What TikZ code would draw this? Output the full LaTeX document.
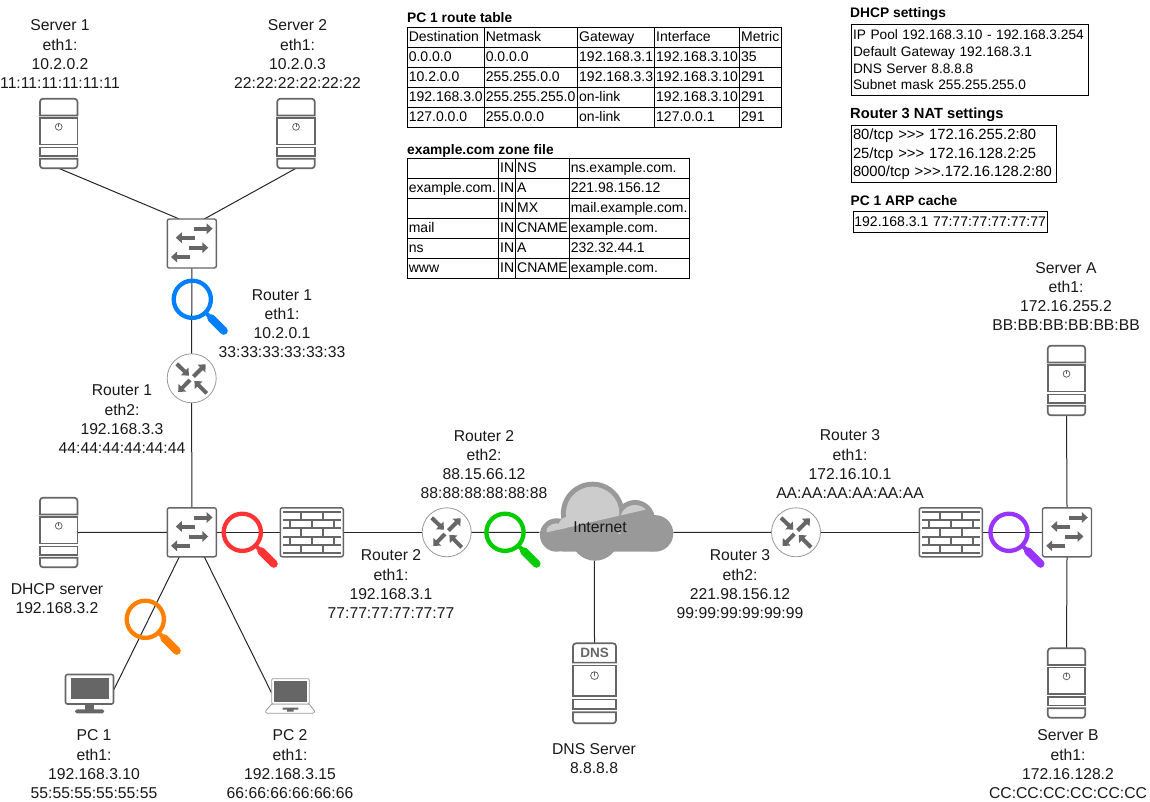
\documentclass[tikz,border=0pt]{standalone}
\usepackage{fontspec}
\setmainfont{Liberation Sans}
\usepackage{array}
\usetikzlibrary{arrows.meta}

\definecolor{icongrey}{HTML}{666666}
\definecolor{ringgrey}{HTML}{999999}
\definecolor{cloudlight}{HTML}{CCCCCC}
\definecolor{magblue}{HTML}{007FFF}
\definecolor{magred}{HTML}{FF3333}
\definecolor{magorange}{HTML}{FF8000}
\definecolor{maggreen}{HTML}{00CC00}
\definecolor{magpurple}{HTML}{9933FF}

\tikzset{
	link/.style={line width=1pt,black!85},
	lbl/.style={align=center,inner sep=0,yshift=-.7pt,font=\fontsize{15.7}{19.2}\selectfont,black!90},
	heading/.style={anchor=base west,inner sep=0,font=\fontsize{13.8}{16}\selectfont\bfseries},
	tablebox/.style={anchor=north west,inner sep=0,outer sep=0},
	textbox/.style={draw,anchor=north west,line width=1pt,inner xsep=1.2pt,inner ysep=0,align=left},
	iconbox/.style={inner sep=0,outer sep=0,minimum width=#1},
	serverbox/.style={iconbox=37.5,minimum height=69.6},
	dnsbox/.style={iconbox=43.6,minimum height=80},
	switchbox/.style={iconbox=49,minimum height=49},
	routerbox/.style={circle,iconbox=49},
	firewallbox/.style={iconbox=63,minimum height=49},
	pcbox/.style={iconbox=49,minimum height=39},
	laptopbox/.style={iconbox=37,minimum height=34.6},
	cloudbox/.style={iconbox=134,minimum height=78},
	thickarrow/.style={icongrey,line width=4pt,-{Triangle[length=6pt,width=10.5pt]}},
	servericon/.pic={
		\begin{scope}[icongrey,line width=1.7pt,fill=white]
			\filldraw (-18.7,-18) [rounded corners=3pt] -- (-18.7,-34.8) -- (18.7,-34.8) [sharp corners] -- (18.7,-18) -- cycle;
			\filldraw (-18.7,-15.5) rectangle (18.7,11);
			\filldraw (-18.7,14) rectangle (18.7,22.5);
			\filldraw (-18.7,25.2) [rounded corners=3pt] -- (-18.7,34.8) -- (18.7,34.8) [sharp corners] -- (18.7,25.2) -- cycle;
			\draw[line width=.8pt] (0,-6.7) circle (3.4);
			\draw[line width=.8pt] (0,-10.1) -- (0,-6.5);
		\end{scope}
	},
	switchicon/.pic={
		\filldraw[icongrey,fill=white,line width=1.4pt,rounded corners=2pt] (-24.5,-24.5) rectangle (24.5,24.5);
		\draw[thickarrow] (2.2,-14.8) -- (20.8,-14.8);
		\draw[thickarrow] (3.2,-5.8) -- (-16,-5.8);
		\draw[thickarrow] (-2.5,4.2) -- (16.5,4.2);
		\draw[thickarrow] (-1.8,13.5) -- (-20.8,13.5);
	},
	routericon/.pic={
		\filldraw[ringgrey,fill=white,line width=.8pt] (0,0) circle (24.5);
		\draw[thickarrow] (-15,-14.5) -- (-2.7,-2.7);
		\draw[thickarrow] (1.7,-1.7) -- (14,-14);
		\draw[thickarrow] (-1.7,1.7) -- (-13.5,13.7);
		\draw[thickarrow] (15,15) -- (2.7,2.7);
	},
	firewallicon/.pic={
		\filldraw[icongrey,fill=white,line width=1.4pt,rounded corners=2pt] (-31.5,-24.5) rectangle (31.5,24.5);
		\begin{scope}[icongrey,line width=2pt]
			\foreach \y in {-20.3,-12.3,-4,4.3,12.7,20.3}
				\draw (-29,\y) -- (29,\y);
			\foreach \y in {-16.3,0.1,16.5}
				\foreach \x in {-11,11.5}
					\draw (\x,\y-4) -- (\x,\y+4);
			\foreach \y in {-8.1,8.5}
				\foreach \x in {-21.5,0.5,22.5}
					\draw (\x,\y-4) -- (\x,\y+4);
		\end{scope}
	},
	pcicon/.pic={
		\filldraw[icongrey,fill=white,line width=1.6pt,rounded corners=2pt] (-24,-19.2) rectangle (24,10.3);
		\fill[icongrey] (-18.8,-15.3) rectangle (19,5.7);
		\fill[icongrey] (-4.8,10.3) rectangle (4.8,16);
		\fill[icongrey,rounded corners=1.5pt] (-14.3,15.7) rectangle (14.5,19.7);
	},
	laptopicon/.pic={
		\filldraw[ringgrey,fill=white,line width=.8pt,rounded corners=1pt] (-18.3,8) -- (-25,15.7) -- (-23.3,17.3) -- (23.3,17.3) -- (25,15.7) -- (19.3,8) -- cycle;
		\filldraw[ringgrey,fill=white,line width=.8pt,rounded corners=1pt] (-18.3,-17.3) rectangle (19.3,8);
		\fill[icongrey] (-16,-15) rectangle (16.7,5.7);
		\fill[icongrey] (-7.3,11.7) -- (8.3,11.7) -- (8.3,13.5) -- (3.5,13.5) -- (3.5,15.5) -- (-3,15.5) -- (-3,13.5) -- (-7.3,13.5) -- cycle;
	},
	cloudicon/.pic={
		\fill[ringgrey,rounded corners=6pt] (-50,12) rectangle (52,29.8);
		\foreach \x/\y/\r in {-13.7/-8.3/31.7, 28.7/-1.7/20, 48.7/11.7/18.3, -49.7/13.3/16.7, -11.3/15/24}
			\fill[ringgrey] (\x,\y) circle (\r);
		\begin{scope}
			\clip (-59.7,10.7) -- (40.3,-12.3) -- (40.3,-60) -- (-59.7,-60) -- cycle;
			\foreach \x/\y/\r in {-13.7/-8.3/26.7, 28.7/-1.7/15, -49.7/13.3/11.7, -38/5/10}
				\fill[cloudlight] (\x,\y) circle (\r);
		\end{scope}
	},
	magnifier/.pic={
		\draw[pic actions,line width=4.3pt] (0,0) circle (18.6);
		\draw[pic actions,line width=4pt] (13,13) -- (20,20);
		\draw[pic actions,line width=8pt,line cap=round] (19,19) -- (31.5,31.5);
	},
}

\begin{document}
\begin{tikzpicture}[x=1pt,y=-1pt]
	\useasboundingbox (0,0) rectangle (1150,802);
	\fill[white] (0,0) rectangle (1150,802);

	% Place the devices
	\foreach \n/\x/\y in {srvone/58.7/133.5, srvtwo/296/133.5, dhcp/58.7/532.5, srva/1066.5/380.5, srvb/1066.5/683}
		\node[serverbox] (\n) at (\x,\y) {};
	\foreach \n/\x/\y in {swone/191.8/243.5, swtwo/191.8/532.3, swthree/1067/532.3}
		\node[switchbox] (\n) at (\x,\y) {};
	\foreach \n/\x/\y in {rtone/191.7/378.3, rttwo/446.7/532.3, rtthree/796/532.3}
		\node[routerbox] (\n) at (\x,\y) {};
	\foreach \n/\x/\y in {fwone/311.8/532.3, fwtwo/950.8/532.3}
		\node[firewallbox] (\n) at (\x,\y) {};
	\node[dnsbox] (dns) at (594.5,683.3) {};
	\node[pcbox] (pcone) at (89.5,693.7) {};
	\node[laptopbox] (pctwo) at (290,696) {};
	\node[cloudbox] (internet) at (606.3,521.7) {};

	% Connect them
	\draw[link] (srvone.south) -- (swone.117);
	\draw[link] (srvtwo.south) -- (swone.63);
	\draw[link] (swone.south) -- (rtone.north);
	\draw[link] (rtone.south) -- (swtwo.north);
	\draw[link] (dhcp.east) -- (swtwo.west);
	\draw[link] (swtwo.east) -- (fwone.west);
	\draw[link] (fwone.east) -- (rttwo.west);
	\draw[link] (swtwo.-117) -- (pcone.10);
	\draw[link] (swtwo.-63) -- (pctwo.170);
	\draw[link] (rttwo.east) -- (internet.189);
	\draw[link] (internet.-9) -- (rtthree.west);
	\draw[link] (internet.-107) -- (dns.north);
	\draw[link] (rtthree.east) -- (fwtwo.west);
	\draw[link] (fwtwo.east) -- (swthree.west);
	\draw[link] (srva.south) -- (swthree.north);
	\draw[link] (swthree.south) -- (srvb.north);

	% Icons on top of the lines
	\foreach \n in {srvone,srvtwo,dhcp,srva,srvb}
		\pic at (\n) {servericon};
	\foreach \n in {swone,swtwo,swthree}
		\pic at (\n) {switchicon};
	\foreach \n in {rtone,rttwo,rtthree}
		\pic at (\n) {routericon};
	\foreach \n in {fwone,fwtwo}
		\pic at (\n) {firewallicon};
	\pic[scale=1.15] at (dns) {servericon};
	\node[inner sep=0,text=icongrey,font=\fontsize{13.5}{16}\selectfont\bfseries] (dnstag) at (594.5,653.3) {DNS};
	\pic at (pcone) {pcicon};
	\pic at (pctwo) {laptopicon};
	\pic at (internet) {cloudicon};
	\node[lbl] (inettext) at (600,526.7) {Internet};

	% Magnifiers
	\pic[magblue] at (192.3,299.3) {magnifier};
	\pic[magred] at (242.3,532.3) {magnifier};
	\pic[magorange] at (145.3,619.3) {magnifier};
	\pic[maggreen] at (505,532.3) {magnifier};
	\pic[magpurple] at (1009,532.3) {magnifier};

	% Device labels
	\node[lbl] (lblsrvone) at (60,53.5) {Server 1\\eth1:\\10.2.0.2\\11:11:11:11:11:11};
	\node[lbl] (lblsrvtwo) at (297.5,53.5) {Server 2\\eth1:\\10.2.0.3\\22:22:22:22:22:22};
	\node[lbl] (lblrtonea) at (282,323) {Router 1\\eth1:\\10.2.0.1\\33:33:33:33:33:33};
	\node[lbl] (lblrtoneb) at (122,418.5) {Router 1\\eth2:\\192.168.3.3\\44:44:44:44:44:44};
	\node[lbl] (lbldhcp) at (57,597.5) {DHCP server\\192.168.3.2};
	\node[lbl] (lblpcone) at (94,763.5) {PC 1\\eth1:\\192.168.3.10\\55:55:55:55:55:55};
	\node[lbl] (lblpctwo) at (290,763.5) {PC 2\\eth1:\\192.168.3.15\\66:66:66:66:66:66};
	\node[lbl] (lblrttwoa) at (391,583.5) {Router 2\\eth1:\\192.168.3.1\\77:77:77:77:77:77};
	\node[lbl] (lblrttwob) at (484,464) {Router 2\\eth2:\\88.15.66.12\\88:88:88:88:88:88};
	\node[lbl] (lbldns) at (594,757.5) {DNS Server\\8.8.8.8};
	\node[lbl] (lblrtthreea) at (850,463.5) {Router 3\\eth1:\\172.16.10.1\\AA:AA:AA:AA:AA:AA};
	\node[lbl] (lblrtthreeb) at (740,583.5) {Router 3\\eth2:\\221.98.156.12\\99:99:99:99:99:99};
	\node[lbl] (lblsrva) at (1066,296) {Server A\\eth1:\\172.16.255.2\\BB:BB:BB:BB:BB:BB};
	\node[lbl] (lblsrvb) at (1068,763.5) {Server B\\eth1:\\172.16.128.2\\CC:CC:CC:CC:CC:CC};

	% Tables
	\node[heading] (routehead) at (407,22.3) {PC 1 route table};
	\node[tablebox] (routetable) at (406.8,26.8) {\fontsize{14}{19}\selectfont\setlength{\tabcolsep}{1pt}\setlength{\arrayrulewidth}{1pt}%
		\begin{tabular}{|p{74pt}|p{90.4pt}|p{74pt}|p{82pt}|p{39pt}|}
			\hline
			Destination & Netmask & Gateway & Interface & Metric\\ \hline
			0.0.0.0 & 0.0.0.0 & 192.168.3.1 & 192.168.3.10 & 35\\ \hline
			10.2.0.0 & 255.255.0.0 & 192.168.3.3 & 192.168.3.10 & 291\\ \hline
			192.168.3.0 & 255.255.255.0 & on-link & 192.168.3.10 & 291\\ \hline
			127.0.0.0 & 255.0.0.0 & on-link & 127.0.0.1 & 291\\ \hline
		\end{tabular}};
	\node[heading] (zonehead) at (407,154.7) {example.com zone file};
	\node[tablebox] (zonetable) at (406.8,158.2) {\fontsize{14}{19}\selectfont\setlength{\tabcolsep}{1pt}\setlength{\arrayrulewidth}{1pt}%
		\begin{tabular}{|p{88.4pt}|p{14pt}|p{50.6pt}|p{117pt}|}
			\hline
			 & IN & NS & ns.example.com.\\ \hline
			example.com. & IN & A & 221.98.156.12\\ \hline
			 & IN & MX & mail.example.com.\\ \hline
			mail & IN & CNAME & example.com.\\ \hline
			ns & IN & A & 232.32.44.1\\ \hline
			www & IN & CNAME & example.com.\\ \hline
		\end{tabular}};

	% Settings boxes
	\node[heading] (dhcphead) at (850,17.3) {DHCP settings};
	\node[textbox,text width=234,minimum height=70.4,font=\fontsize{13.7}{16.7}\selectfont] (dhcpbox) at (851.3,24.3)
		{IP Pool 192.168.3.10 - 192.168.3.254\\Default Gateway 192.168.3.1\\DNS Server 8.8.8.8\\Subnet mask 255.255.255.0};
	\node[heading,font=\fontsize{14.7}{16}\selectfont\bfseries] (nathead) at (850,118.3) {Router 3 NAT settings};
	\node[textbox,text width=202,minimum height=57,font=\fontsize{14.8}{18.3}\selectfont] (natbox) at (851.3,125.3)
		{80/tcp >{}>{}> 172.16.255.2:80\\25/tcp >{}>{}> 172.16.128.2:25\\8000/tcp >{}>{}>.172.16.128.2:80};
	\node[heading] (arphead) at (850.5,205.7) {PC 1 ARP cache};
	\node[textbox,text width=191.6,minimum height=20.4,font=\fontsize{14}{16.7}\selectfont] (arpbox) at (852.7,211.3)
		{192.168.3.1 77:77:77:77:77:77};
\end{tikzpicture}
\end{document}
